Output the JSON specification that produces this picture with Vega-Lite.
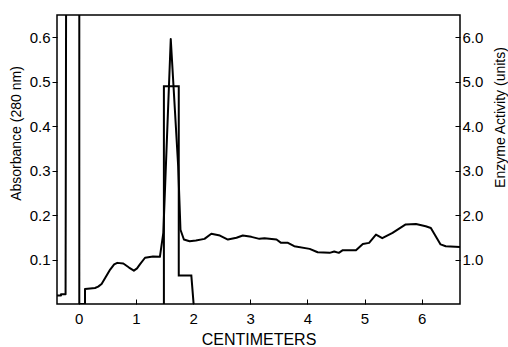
{
  "$schema": "https://vega.github.io/schema/vega-lite/v6.json",
  "width": 403,
  "height": 289,
  "autosize": {"type": "none"},
  "padding": {"left": 57, "top": 15, "right": 48, "bottom": 43},
  "background": "white",
  "config": {
    "view": {"stroke": "black", "strokeWidth": 1.5},
    "font": "Liberation Sans",
    "axis": {
      "grid": false,
      "domain": false,
      "tickColor": "black",
      "labelColor": "black",
      "titleColor": "black",
      "labelFont": "Liberation Sans",
      "titleFont": "Liberation Sans",
      "labelFontSize": 15,
      "titleFontSize": 14,
      "titleFontWeight": "normal"
    }
  },
  "datasets": {
    "absorbance": [
      {"cm": -0.38, "abs": 0.019},
      {"cm": -0.31, "abs": 0.019},
      {"cm": -0.31, "abs": 0.022},
      {"cm": -0.23, "abs": 0.022},
      {"cm": -0.22, "abs": 0.75},
      {"cm": 0.01, "abs": 0.75},
      {"cm": 0.01, "abs": 0},
      {"cm": 0.11, "abs": 0},
      {"cm": 0.11, "abs": 0.034},
      {"cm": 0.2, "abs": 0.035},
      {"cm": 0.285, "abs": 0.036},
      {"cm": 0.34, "abs": 0.039},
      {"cm": 0.4, "abs": 0.045},
      {"cm": 0.47, "abs": 0.06},
      {"cm": 0.55, "abs": 0.0775},
      {"cm": 0.62, "abs": 0.089},
      {"cm": 0.675, "abs": 0.0925},
      {"cm": 0.78, "abs": 0.091},
      {"cm": 0.88, "abs": 0.082},
      {"cm": 0.965, "abs": 0.075},
      {"cm": 1.02, "abs": 0.08},
      {"cm": 1.07, "abs": 0.089},
      {"cm": 1.16, "abs": 0.104},
      {"cm": 1.3, "abs": 0.107},
      {"cm": 1.42, "abs": 0.106},
      {"cm": 1.48, "abs": 0.16},
      {"cm": 1.61, "abs": 0.596},
      {"cm": 1.74, "abs": 0.31},
      {"cm": 1.78, "abs": 0.167},
      {"cm": 1.84, "abs": 0.145},
      {"cm": 1.94, "abs": 0.141},
      {"cm": 2.05, "abs": 0.143},
      {"cm": 2.2, "abs": 0.1465},
      {"cm": 2.32, "abs": 0.158},
      {"cm": 2.47, "abs": 0.154},
      {"cm": 2.61, "abs": 0.145},
      {"cm": 2.76, "abs": 0.149},
      {"cm": 2.87, "abs": 0.154},
      {"cm": 3.02, "abs": 0.151},
      {"cm": 3.16, "abs": 0.1465},
      {"cm": 3.25, "abs": 0.148},
      {"cm": 3.46, "abs": 0.145},
      {"cm": 3.54, "abs": 0.1375},
      {"cm": 3.66, "abs": 0.1375},
      {"cm": 3.77, "abs": 0.13},
      {"cm": 4.04, "abs": 0.124},
      {"cm": 4.18, "abs": 0.1165},
      {"cm": 4.39, "abs": 0.115},
      {"cm": 4.47, "abs": 0.118},
      {"cm": 4.55, "abs": 0.115},
      {"cm": 4.62, "abs": 0.121},
      {"cm": 4.85, "abs": 0.121},
      {"cm": 4.97, "abs": 0.135},
      {"cm": 5.08, "abs": 0.1375},
      {"cm": 5.2, "abs": 0.156},
      {"cm": 5.31, "abs": 0.148},
      {"cm": 5.49, "abs": 0.16},
      {"cm": 5.72, "abs": 0.179},
      {"cm": 5.9, "abs": 0.18},
      {"cm": 6.07, "abs": 0.175},
      {"cm": 6.16, "abs": 0.171},
      {"cm": 6.33, "abs": 0.134},
      {"cm": 6.42, "abs": 0.13},
      {"cm": 6.67, "abs": 0.128}
    ],
    "enzyme": [
      {"cm": 1.49, "act": 0},
      {"cm": 1.49, "act": 4.9},
      {"cm": 1.75, "act": 4.9},
      {"cm": 1.75, "act": 0.64},
      {"cm": 1.97, "act": 0.64},
      {"cm": 2.01, "act": 0}
    ]
  },
  "layer": [
    {
      "data": {"name": "absorbance"},
      "mark": {"type": "line", "color": "black", "strokeWidth": 2, "clip": true, "strokeJoin": "round"},
      "encoding": {
        "x": {
          "field": "cm", "type": "quantitative",
          "scale": {"domain": [-0.38, 6.67], "nice": false, "zero": false},
          "axis": {"values": [0, 1, 2, 3, 4, 5, 6], "title": "CENTIMETERS", "tickSize": -5, "labelPadding": 12, "titleFontSize": 16, "titlePadding": 5, "format": "d"}
        },
        "y": {
          "field": "abs", "type": "quantitative",
          "scale": {"domain": [0, 0.65], "nice": false},
          "axis": {"values": [0.1, 0.2, 0.3, 0.4, 0.5, 0.6], "format": ".1f", "title": "Absorbance  (280 nm)", "tickSize": 5, "labelPadding": 2, "titleY": 118, "titlePadding": 6}
        },
        "order": {"value": null}
      }
    },
    {
      "data": {"name": "enzyme"},
      "mark": {"type": "line", "color": "black", "strokeWidth": 2, "clip": true},
      "encoding": {
        "x": {"field": "cm", "type": "quantitative"},
        "y": {
          "field": "act", "type": "quantitative",
          "scale": {"domain": [0, 6.5], "nice": false},
          "axis": {"orient": "right", "values": [1, 2, 3, 4, 5, 6], "format": ".1f", "title": "Enzyme Activity (units)", "titleAngle": -90, "tickSize": -5, "labelPadding": 7, "titleY": 102, "titleX": 44, "titleBaseline": "alphabetic", "titleAlign": "center"}
        },
        "order": {"value": null}
      }
    }
  ],
  "resolve": {"scale": {"y": "independent"}}
}
